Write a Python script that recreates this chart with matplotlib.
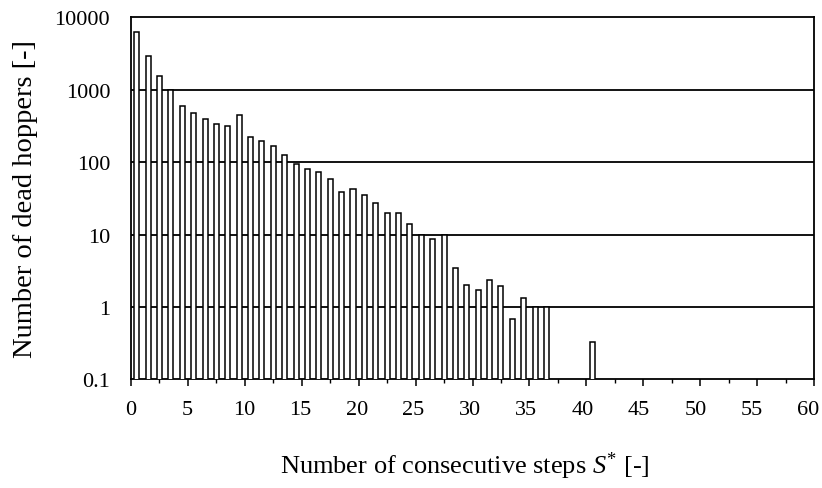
import numpy as np
import matplotlib
matplotlib.use("Agg")
import matplotlib.pyplot as plt
from matplotlib.ticker import FixedLocator, FixedFormatter, MultipleLocator
from matplotlib.transforms import ScaledTranslation

plt.rcParams['font.family'] = ['Liberation Serif', 'DejaVu Serif']
plt.rcParams['mathtext.fontset'] = 'custom'
plt.rcParams['mathtext.rm'] = 'Liberation Serif'
plt.rcParams['mathtext.it'] = 'Liberation Serif:italic'

# Data: number of consecutive steps (category index) and dead hopper counts
steps = list(range(0, 41))
counts = [6200, 2900, 1560, 980, 600, 475, 395, 330, 310, 440,
          223, 197, 168, 127, 94, 81, 73, 59, 39, 43,
          35, 27.5, 20, 20, 14, 10, 8.8, 10, 3.4, 2.0,
          1.7, 2.35, 1.97, 0.69, 1.35, 1.0, 1.0, 0, 0, 0,
          0.33]

y_ticks = [0.1, 1, 10, 100, 1000, 10000]
y_tick_labels = ["0.1", "1", "10", "100", "1000", "10000"]
x_ticks = [0, 5, 10, 15, 20, 25, 30, 35, 40, 45, 50, 55, 60]
grid_levels = [1, 10, 100, 1000]

fig = plt.figure(figsize=(8.22, 4.89), dpi=100)
ax = fig.add_axes([0.1594, 0.222, 0.8309, 0.741])

xs = np.array(steps) + 0.5
vals = np.array(counts, dtype=float)
mask = vals > 0
ax.bar(xs[mask], vals[mask], width=0.44,
       color='white', edgecolor='black', linewidth=1.1, zorder=3)

ax.set_yscale('log')
ax.set_ylim(0.1, 10000)
ax.set_xlim(0, 60)

for g in grid_levels:
    ax.axhline(g, color='black', linewidth=1.3, zorder=2)

ax.yaxis.set_major_locator(FixedLocator(y_ticks))
ax.yaxis.set_major_formatter(FixedFormatter(y_tick_labels))
ax.yaxis.set_minor_locator(FixedLocator([]))
ax.tick_params(axis='y', length=0, pad=15, labelsize=16)

ax.xaxis.set_major_locator(FixedLocator(x_ticks))
ax.xaxis.set_minor_locator(MultipleLocator(2.5))
ax.tick_params(axis='x', which='major', direction='out', length=5, width=1.1,
               labelsize=16, pad=10)
ax.tick_params(axis='x', which='minor', direction='out', length=3, width=1.0)

# small leftward drift of the x tick labels, as in the scanned original
for i, lab in enumerate(ax.get_xticklabels()):
    lab.set_transform(lab.get_transform() +
                      ScaledTranslation(-4.0 * i / 12 / 72, 0, fig.dpi_scale_trans))

for s in ax.spines.values():
    s.set_linewidth(1.3)

ax.set_ylabel("Number of dead hoppers [-]", fontsize=20.5)
ax.yaxis.label.set_va('center')
ax.yaxis.set_label_coords((25 - 131) / 683, 0.5)

ax.set_xlabel(r"Number of consecutive steps $S^{*}$ [-]", fontsize=19)
ax.xaxis.label.set_va('center')
ax.xaxis.set_label_coords((465 - 131) / 683, (380 - 466) / 362)

fig.savefig("out.png", dpi=100)
